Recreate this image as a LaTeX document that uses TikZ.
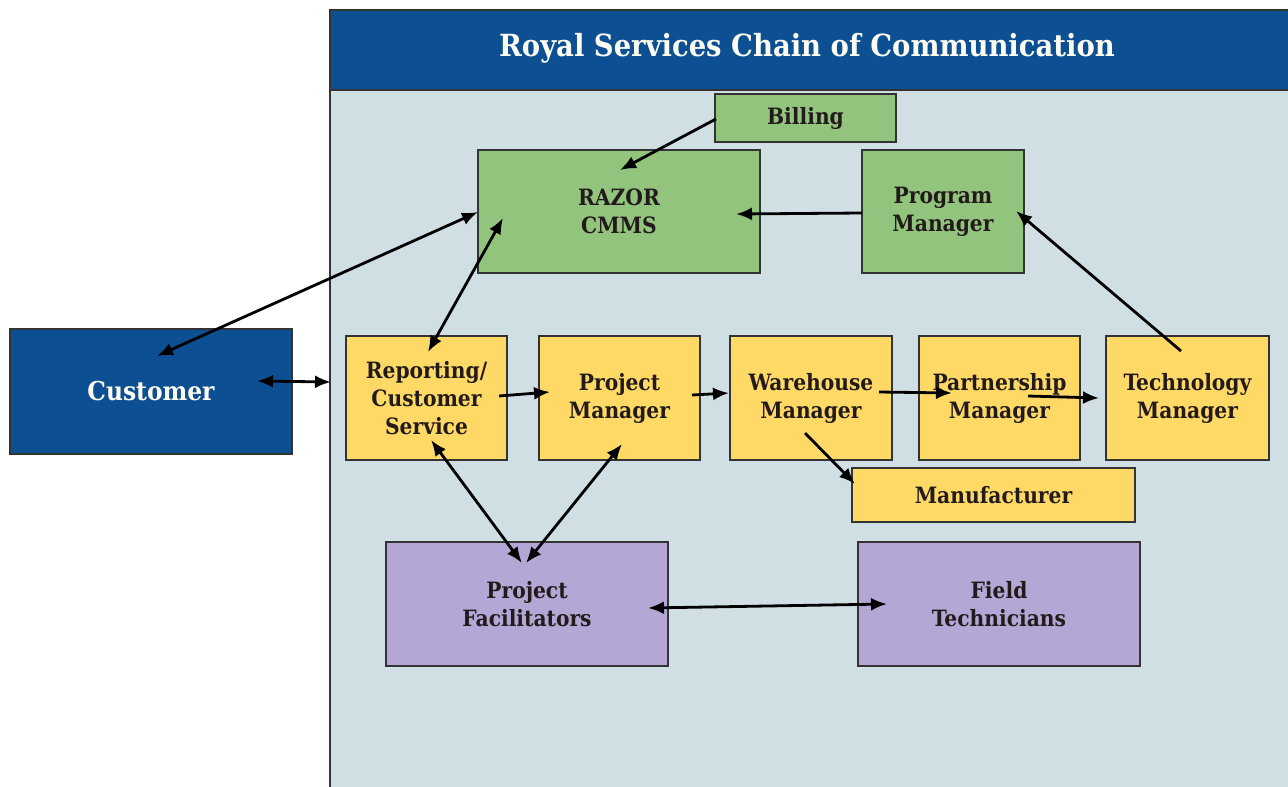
\documentclass[tikz,border=0pt]{standalone}
\usepackage{fontspec}
\setmainfont{DejaVu Serif Condensed}
\usetikzlibrary{arrows.meta}
\definecolor{hdrblue}{HTML}{0C4F92}
\definecolor{panelbg}{HTML}{D0DFE3}
\definecolor{gbox}{HTML}{93C47D}
\definecolor{ybox}{HTML}{FFD966}
\definecolor{pbox}{HTML}{B4A7D6}
\definecolor{txt}{HTML}{231B1B}
\definecolor{edge}{HTML}{333333}
\begin{document}
\begin{tikzpicture}[x=1pt,y=-1pt,
  box/.style={draw=edge, line width=1.2pt, rectangle, align=center, inner sep=0pt,
    text=txt, font=\fontsize{22.5}{28}\selectfont\bfseries},
  green/.style={box, fill=gbox},
  yellow/.style={box, fill=ybox},
  purple/.style={box, fill=pbox},
  bluebox/.style={box, fill=hdrblue, text=white!95!yellow},
  conn/.style={line width=2.8pt, draw=black, -{Latex[length=16pt,width=13pt]}},
  biconn/.style={line width=2.8pt, draw=black, {Latex[length=16pt,width=13pt]}-{Latex[length=16pt,width=13pt]}}]
\useasboundingbox (0,0) rectangle (1288,787);
\fill[white] (0,0) rectangle (1288,787);
% panel
\fill[panelbg] (330,10) rectangle (1292,792);
\fill[hdrblue] (330,10) rectangle (1292,90);
\draw[edge, line width=1.4pt] (330,792) -- (330,10) -- (1292,10);
\draw[edge, line width=1.4pt] (330,90) -- (1292,90);
\node[text=white!95!yellow, font=\fontsize{30.5}{34}\selectfont\bfseries] (title) at (807,48) {Royal Services Chain of Communication};
% nodes
\node[bluebox, minimum width=282pt, minimum height=125pt, font=\fontsize{26}{30}\selectfont\bfseries] (cust) at (151,391.5) {Customer};
\node[green, minimum width=181pt, minimum height=48pt] (bill) at (805.5,118) {Billing};
\node[green, minimum width=282pt, minimum height=123pt] (razor) at (619,211.5) {RAZOR\\CMMS};
\node[green, minimum width=162pt, minimum height=123pt] (prog) at (943,211.5) {Program\\Manager};
\node[yellow, minimum width=161pt, minimum height=124pt] (rep) at (426.5,398) {Reporting/\\Customer\\Service};
\node[yellow, minimum width=161pt, minimum height=124pt] (proj) at (619.5,398) {Project\\Manager};
\node[yellow, minimum width=162pt, minimum height=124pt] (ware) at (811,398) {Warehouse\\Manager};
\node[yellow, minimum width=161pt, minimum height=124pt] (part) at (999.5,398) {Partnership\\Manager};
\node[yellow, minimum width=163pt, minimum height=124pt] (tech) at (1187.5,398) {Technology\\Manager};
\node[yellow, minimum width=283pt, minimum height=54pt] (manu) at (993.5,495) {Manufacturer};
\node[purple, minimum width=282pt, minimum height=124pt] (fac) at (527,604) {Project\\Facilitators};
\node[purple, minimum width=282pt, minimum height=124pt] (field) at (999,604) {Field\\Technicians};
% connectors
\draw[conn] ([shift={(-89.5,1)}]bill.center) -- ([shift={(1,-41.5)}]razor.center);
\draw[conn] ([shift={(-81,1.5)}]prog.center) -- ([shift={(117,2.5)}]razor.center);
\draw[biconn] ([shift={(6,-35.5)}]cust.center) -- ([shift={(-141,0.5)}]razor.center);
\draw[biconn] ([shift={(-116,6.5)}]razor.center) -- ([shift={(1.5,-46)}]rep.center);
\draw[conn] ([shift={(-6.5,-47)}]tech.center) -- ([shift={(73,-0.5)}]prog.center);
\draw[biconn] ([shift={(106,-10.5)}]cust.center) -- ([shift={(-95.5,-16)}]rep.center);
\draw[conn] ([shift={(72.5,-2)}]rep.center) -- ([shift={(-69.5,-6)}]proj.center);
\draw[conn] ([shift={(72.5,-3)}]proj.center) -- ([shift={(-82,-5)}]ware.center);
\draw[conn] ([shift={(68,-6)}]ware.center) -- ([shift={(-47.5,-5)}]part.center);
\draw[conn] ([shift={(28.5,-2)}]part.center) -- ([shift={(-88.5,0)}]tech.center);
\draw[conn] ([shift={(-6,35)}]ware.center) -- ([shift={(-138.5,-11)}]manu.center);
\draw[biconn] ([shift={(4.5,42)}]rep.center) -- ([shift={(-5,-41)}]fac.center);
\draw[biconn] ([shift={(2.5,46)}]proj.center) -- ([shift={(-1,-41)}]fac.center);
\draw[biconn] ([shift={(121,4)}]fac.center) -- ([shift={(-112,0)}]field.center);
\end{tikzpicture}
\end{document}
